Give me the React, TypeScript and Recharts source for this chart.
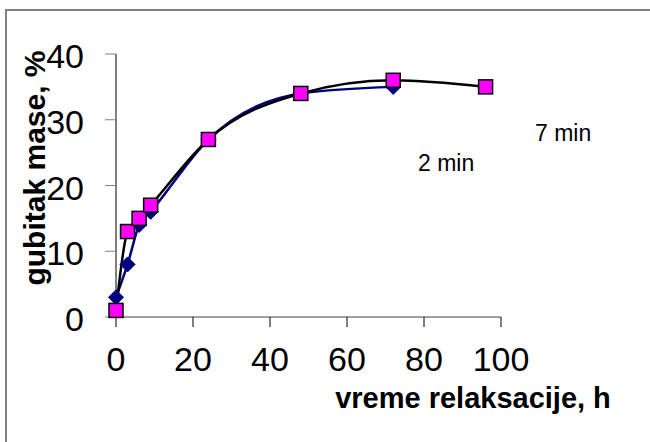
import React from 'react';
import { LineChart, Line, XAxis, YAxis } from 'recharts';

// relaxation time, h
const hoursShort = [0, 3, 6, 9, 24, 48, 72];
const hoursLong = [0, 3, 6, 9, 24, 48, 72, 96];
// mass loss, %
const loss2min = [3, 8, 14, 16, 27, 34, 35];
const loss7min = [1, 13, 15, 17, 27, 34, 36, 35];

const xTicks = [0, 20, 40, 60, 80, 100];
const yTicks = [0, 10, 20, 30, 40];

const seriesA = hoursShort.map((h, i) => ({ h, v: loss2min[i] }));
const seriesB = hoursLong.map((h, i) => ({ h, v: loss7min[i] }));

const FONT = '"Liberation Sans", Arial, sans-serif';

const Diamond = (props: any) => {
  const { cx, cy, index } = props;
  if (cx == null || cy == null) return <g key={`d-${index}`} />;
  const r = 7.5;
  return (
    <path
      key={`d-${index}`}
      d={`M${cx},${cy - r}L${cx + r},${cy}L${cx},${cy + r}L${cx - r},${cy}Z`}
      fill="#000080"
      stroke="#000080"
      strokeWidth={1}
    />
  );
};

const Square = (props: any) => {
  const { cx, cy, index } = props;
  if (cx == null || cy == null) return <g key={`s-${index}`} />;
  const s = 14;
  return (
    <rect
      key={`s-${index}`}
      x={cx - s / 2}
      y={cy - s / 2}
      width={s}
      height={s}
      fill="#ff00ff"
      stroke="#000"
      strokeWidth={1.5}
    />
  );
};

export default function App() {
  return (
    <div style={{ position: 'fixed', left: 0, top: 0, width: 650, height: 442, background: '#fff' }}>
      <LineChart
        width={650}
        height={442}
        margin={{ top: 54, right: 149, bottom: 65, left: 0 }}
        style={{ fontFamily: FONT, overflow: 'visible' }}
      >
        <XAxis
          type="number"
          dataKey="h"
          domain={[0, 100]}
          ticks={xTicks}
          height={60}
          tickSize={10}
          tickMargin={20}
          axisLine={{ stroke: '#808080', strokeWidth: 1.5 }}
          tickLine={{ stroke: '#000' }}
          tick={{ fill: '#000', fontSize: 34, fontFamily: FONT }}
        />
        <YAxis
          type="number"
          dataKey="v"
          domain={[0, 40]}
          ticks={yTicks}
          width={116}
          tickSize={11}
          tickMargin={21}
          axisLine={{ stroke: '#000' }}
          tickLine={{ stroke: '#808080' }}
          tick={{ fill: '#000', fontSize: 34, fontFamily: FONT, dy: 2 }}
        />
        <Line
          data={seriesA}
          dataKey="v"
          type="monotone"
          stroke="#000080"
          strokeWidth={2.5}
          dot={Diamond}
          activeDot={false}
          isAnimationActive={false}
        />
        <Line
          data={seriesB}
          dataKey="v"
          type="monotone"
          stroke="#000"
          strokeWidth={2.5}
          dot={Square}
          activeDot={false}
          isAnimationActive={false}
        />
      </LineChart>

      {/* frame, titles and series notes */}
      <svg
        width={650}
        height={442}
        style={{ position: 'absolute', left: 0, top: 0, pointerEvents: 'none' }}
      >
        <line x1={5} y1={10} x2={650} y2={10} stroke="#808080" strokeWidth={2} />
        <line x1={6} y1={9} x2={6} y2={442} stroke="#808080" strokeWidth={2} />
        <text
          x={473}
          y={408}
          textAnchor="middle"
          fontFamily={FONT}
          fontWeight="bold"
          fontSize={29}
          fill="#000"
        >
          vreme relaksacije, h
        </text>
        <text
          x={45}
          y={168}
          textAnchor="middle"
          fontFamily={FONT}
          fontWeight="bold"
          fontSize={30}
          fill="#000"
          transform="rotate(-90 45 168)"
        >
          gubitak mase, %
        </text>
        <text x={418} y={171} fontFamily={FONT} fontSize={23} fill="#000">
          2 min
        </text>
        <text x={535} y={141} fontFamily={FONT} fontSize={23} fill="#000">
          7 min
        </text>
      </svg>
    </div>
  );
}
